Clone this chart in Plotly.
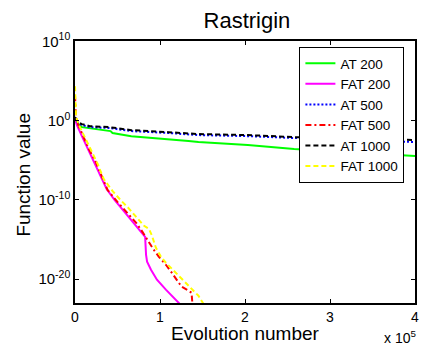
import plotly.graph_objects as go

# ---- data (x = evolution number, y = function value) ----
at200_x = [0, 3500, 8100, 17400, 34800, 41800, 44100, 66200, 133600, 145200, 203300, 257800, 319400, 400000]
at200_y = [1.55, 0.36, 0.15, 0.115, 0.063, 0.048, 0.027, 0.011, 2.6e-3, 2.0e-3, 8.3e-4, 2.6e-4, 1.1e-4, 3.4e-5]

fat200_x = [0, 2300, 8100, 15100, 22100, 30200, 37200, 46500, 58100, 69700, 79000, 82500, 83600,
            84800, 89400, 96400, 106900, 122000, 124000]
fat200_y = [1.55, 0.27, 1.1e-2, 2.6e-4, 6.0e-6, 7.8e-8, 2.4e-9, 1.0e-10, 3.1e-12, 1.3e-13, 7.1e-15,
            2.2e-15, 1.2e-17, 1.6e-18, 1.6e-19, 8.7e-21, 4.8e-22, 1.1e-23, 6.3e-24]

at500_x = [0, 3500, 8100, 17400, 40700, 66200, 110300, 145200, 203300, 257800, 319400, 400000]
at500_y = [2.04, 0.49, 0.27, 0.15, 0.115, 0.048, 0.027, 0.015, 0.011, 6.3e-3, 3.5e-3, 2.0e-3]

fat500_x = [0, 300, 1200, 3500, 9300, 16300, 24400, 31400, 38300, 49900, 61600, 72000, 80100,
            84800, 91800, 98700, 106900, 113800, 125400, 133600, 137100, 138200]
fat500_y = [1.6e3, 20.9, 2.04, 0.363, 1.1e-2, 2.6e-4, 6.0e-6, 1.05e-7, 1.82e-9, 5.6e-11, 2.29e-12,
            1.3e-13, 7.1e-15, 9.3e-16, 6.9e-17, 6.8e-18, 6.6e-19, 6.6e-20, 1.15e-21, 3.5e-22,
            2.0e-22, 6.3e-24]

at1000_x = [0, 3500, 8100, 17400, 40700, 66200, 110300, 145200, 203300, 257800, 319400, 400000]
at1000_y = [2.75, 0.65, 0.36, 0.20, 0.15, 0.063, 0.035, 0.020, 0.015, 8.3e-3, 6.3e-3, 3.5e-3]

fat1000_x = [0, 350, 1200, 3500, 7000, 12800, 19700, 26700, 33700, 44100, 53400, 62700, 72000,
             81300, 87100, 90600, 95200, 101100, 106900, 118500, 127800, 137100, 145200, 151000]
fat1000_y = [2.2e4, 89, 3.7, 0.49, 0.085, 3.5e-3, 1.1e-4, 3.4e-6, 4.4e-8, 1.35e-9, 1.0e-10, 1.0e-11,
             7.2e-13, 5.4e-14, 2.2e-14, 3.0e-15, 9.1e-17, 6.8e-18, 1.2e-18, 6.6e-20, 6.5e-21,
             6.5e-22, 8.3e-23, 8.3e-24]

x_tickvals = [0, 100000, 200000, 300000, 400000]
x_ticktext = ["0", "1", "2", "3", "4"]
y_tickvals = [1e-20, 1e-10, 1, 1e10]
y_ticktext = ["10<sup>-20</sup>", "10<sup>-10</sup>", "10<sup>0</sup>", "10<sup>10</sup>"]

series = [
    ("AT 200", at200_x, at200_y, "#00ff00", "solid"),
    ("FAT 200", fat200_x, fat200_y, "#ff00ff", "solid"),
    ("AT 500", at500_x, at500_y, "#0000ff", "2px,2px"),
    ("FAT 500", fat500_x, fat500_y, "#ff0000", "6px,3px,2px,3px"),
    ("AT 1000", at1000_x, at1000_y, "#000000", "5px,3px"),
    ("FAT 1000", fat1000_x, fat1000_y, "#ffff00", "5px,3px"),
]

FONT = "Liberation Sans, Arial, sans-serif"

fig = go.Figure()
for name, xs, ys, col, dash in series:
    fig.add_trace(go.Scatter(x=xs, y=ys, mode="lines", name=name,
                             line=dict(color=col, width=2, dash=dash)))

fig.update_layout(
    width=425, height=350,
    margin=dict(l=75, r=6, t=41, b=47),
    paper_bgcolor="white", plot_bgcolor="white",
    font=dict(family=FONT, size=14, color="black"),
    showlegend=True,
    legend=dict(x=0.66, y=0.977, xanchor="left", yanchor="top",
                bgcolor="white", bordercolor="black", borderwidth=1,
                font=dict(family=FONT, size=13.5, color="black"),
                tracegroupgap=0),
    title=dict(text="Rastrigin", x=0.581, xanchor="center", xref="container",
               y=0.943, yanchor="middle", yref="container",
               font=dict(family=FONT, size=22, color="black")),
    xaxis=dict(range=[0, 400000], tickvals=x_tickvals, ticktext=x_ticktext,
               ticks="inside", ticklen=4, tickcolor="black",
               showline=True, linecolor="black", linewidth=1.5, mirror="ticks",
               showgrid=False, zeroline=False,
               tickfont=dict(family=FONT, size=14)),
    yaxis=dict(type="log", range=[-23, 10.04], tickvals=y_tickvals, ticktext=y_ticktext,
               ticks="inside", ticklen=4, tickcolor="black",
               showline=True, linecolor="black", linewidth=1.5, mirror="ticks",
               showgrid=False, zeroline=False,
               tickfont=dict(family=FONT, size=15)),
    annotations=[
        dict(text="Evolution number", x=0.5, y=-0.118, xref="paper", yref="paper",
             xanchor="center", yanchor="middle", showarrow=False,
             font=dict(family=FONT, size=19)),
        dict(text="Function value", x=-0.15, y=0.49, xref="paper", yref="paper",
             xanchor="center", yanchor="middle", textangle=-90, showarrow=False,
             font=dict(family=FONT, size=19)),
        dict(text="x 10<sup>5</sup>", x=1.01, y=-0.13, xref="paper", yref="paper",
             xanchor="right", yanchor="middle", showarrow=False,
             font=dict(family=FONT, size=14)),
    ],
)

fig.write_html("out.html")
